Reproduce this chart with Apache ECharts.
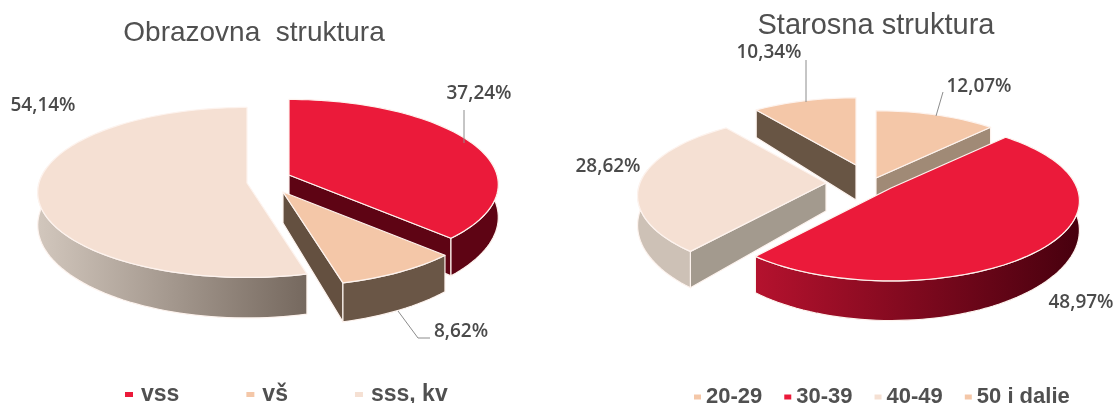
<!DOCTYPE html>
<html>
<head>
<meta charset="utf-8">
<style>
  html, body { margin: 0; padding: 0; background: #fff; }
  #chart { width: 1116px; height: 403px; }
</style>
</head>
<body>
<div id="chart"></div>
<script src="https://cdn.jsdelivr.net/npm/echarts@6/dist/echarts.min.js"></script>
<script>
// values
const eduNames = ['vss', 'vš', 'sss, kv'];
const eduValues = [37.24, 8.62, 54.14];
const ageNames = ['20-29', '30-39', '40-49', '50 i dalje'];
const ageValues = [12.07, 48.97, 28.62, 10.34];

const RED = '#EB1A3A', PEACH = '#F4C7A8', CREAM = '#F5E0D3';
const EDGE = '#fdf3ee', LEADER = '#8c8c8c', TEXT = '#505050';

const flat = c => c;
const sideways = (a, b) => ({
  type: 'linear', x: 0, y: 0, x2: 1, y2: 0,
  colorStops: [{ offset: 0, color: a }, { offset: 1, color: b }]
});

// one entry per slice: apex = where the exploded slice sits, thick = wall height,
// label = text centre, leader = optional line from the label to the slice
const eduPie = {
  rx: 208, ry: 84, persp: 0.111, names: eduNames, values: eduValues,
  order: [2, 0, 1],
  slices: [
    { apex: [289, 175], thick: 32, top: RED, wall: flat('#5e0414'), cut: '#5e0414',
      label: [479, 94], leader: [[464, 110], [464, 143]] },
    { apex: [283, 192], thick: 31, top: PEACH, wall: flat('#6a5646'), cut: '#645040',
      label: [461, 332], leader: [[398, 311], [418, 338], [430, 338]] },
    { apex: [247, 183], thick: 32, top: CREAM, wall: sideways('#d2c7bd', '#75685e'), cut: '#75685e',
      label: [43, 106] }
  ]
};
const agePie = {
  rx: 186, ry: 78, persp: 0.16, names: ageNames, values: ageValues,
  order: [3, 0, 2, 1],
  slices: [
    { apex: [876, 178], thick: 28, top: PEACH, wall: flat('#a08a76'), cut: '#a08a76',
      label: [979, 87], leader: [[943, 92], [936, 116]] },
    { apex: [891, 188], thick: 28, top: RED, wall: sideways('#b5122e', '#47000e'), cut: '#47000e',
      label: [1081, 303] },
    { apex: [826, 183], thick: 28, top: CREAM, wall: flat('#cdc1b6'), cut: '#a39a8e',
      label: [608, 167] },
    { apex: [856, 165], thick: 35, top: PEACH, wall: flat('#685544'), cut: '#685544',
      label: [769, 53], leader: [[806, 60], [806, 102]] }
  ]
};

function pct(v) {
  return v.toFixed(2).replace('.', ',') + '%';
}

// slice angles clockwise from 12 o'clock, tilted disc with a bit of perspective
function buildSeries(pie) {
  const total = pie.values.reduce((a, b) => a + b, 0);
  let run = 0;
  const spans = pie.values.map(v => {
    const a = run / total * 360;
    run += v;
    return [a, run / total * 360];
  });

  return pie.order.map(i => {
    const sl = pie.slices[i];
    const [from, to] = spans[i];

    const scale = deg => 1 / (1 + pie.persp * Math.cos(deg * Math.PI / 180));
    const rim = deg => {
      const r = deg * Math.PI / 180, s = scale(deg);
      return [sl.apex[0] + pie.rx * Math.sin(r) * s, sl.apex[1] - pie.ry * Math.cos(r) * s];
    };
    const drop = deg => {
      const p = rim(deg), s = scale(deg);
      return [p[0], p[1] + sl.thick * s * s];
    };
    const arc = (a, b, fn) => {
      const pts = [];
      const n = Math.max(2, Math.ceil(Math.abs(b - a) / 2));
      for (let k = 0; k <= n; k++) pts.push(fn(a + (b - a) * k / n));
      return pts;
    };
    const foot = [sl.apex[0], sl.apex[1] + sl.thick];
    const sin = deg => Math.sin(deg * Math.PI / 180);

    return {
      type: 'custom',
      name: pie.names[i],
      coordinateSystem: 'none',
      silent: true,
      itemStyle: { color: sl.top },
      data: [[pie.values[i]]],
      renderItem: (params, api) => {
        const value = api.value(0);
        const kids = [];
        const poly = (points, fill, stroke) => kids.push({
          type: 'polygon', shape: { points },
          style: { fill, stroke: stroke || EDGE, lineWidth: 1.2, lineJoin: 'round' }
        });
        // walls along the cut edges, only those facing the viewer
        if (sin(from) < 0) poly([sl.apex, rim(from), drop(from), foot], sl.cut);
        if (sin(to) > 0) poly([sl.apex, rim(to), drop(to), foot], sl.cut);
        // outer wall, same idea
        const a = Math.max(from, 80), b = Math.min(to, 280);
        if (b > a) poly(arc(a, b, rim).concat(arc(b, a, drop)), sl.wall);
        // top face
        poly([sl.apex].concat(arc(from, to, rim)), sl.top);
        if (sl.leader) {
          kids.push({
            type: 'polyline', shape: { points: sl.leader },
            style: { stroke: LEADER, lineWidth: 1, fill: null }
          });
        }
        kids.push({
          type: 'text', x: sl.label[0], y: sl.label[1],
          style: {
            text: pct(value), align: 'center', verticalAlign: 'middle',
            font: '600 19px "Open Sans"', fill: '#4a4a4a'
          }
        });
        return { type: 'group', children: kids };
      }
    };
  });
}

const legendBase = { color: TEXT, fontFamily: 'Liberation Sans', fontWeight: 'bold' };

let chart = echarts.init(document.getElementById('chart'));
chart.setOption({
  animation: false,
  backgroundColor: '#fff',
  title: [
    { text: 'Obrazovna  struktura', left: 249, top: 14, textAlign: 'center',
      textStyle: { color: TEXT, fontFamily: 'Liberation Sans', fontWeight: 'normal', fontSize: 28 } },
    { text: 'Starosna struktura', left: 871, top: 6, textAlign: 'center',
      textStyle: { color: TEXT, fontFamily: 'Liberation Sans', fontWeight: 'normal', fontSize: 29 } }
  ],
  legend: [
    { data: eduNames, left: 120, top: 378, icon: 'rect', itemWidth: 8, itemHeight: 5, itemGap: 67,
      textStyle: { ...legendBase, fontSize: 23, padding: [0, 0, 0, 3] } },
    { data: ageNames, left: 689, top: 381, icon: 'rect', itemWidth: 7, itemHeight: 5, itemGap: 22,
      textStyle: { ...legendBase, fontSize: 22 } }
  ],
  series: buildSeries(eduPie).concat(buildSeries(agePie))
});
</script>
</body>
</html>
